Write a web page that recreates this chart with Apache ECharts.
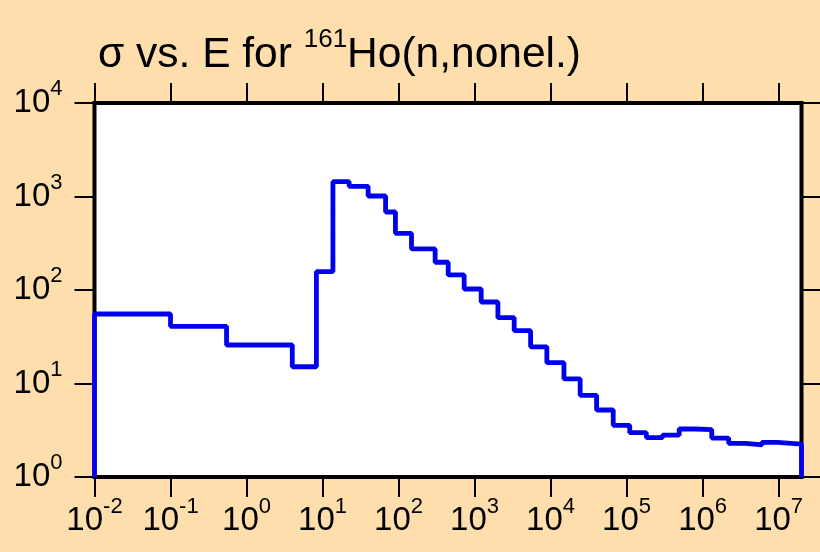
<!DOCTYPE html>
<html>
<head>
<meta charset="utf-8">
<script src="https://cdn.jsdelivr.net/npm/echarts@6/dist/echarts.min.js"></script>
<style>
html,body{margin:0;padding:0;background:#FFDEAD;}
#chart{width:820px;height:552px;}
</style>
</head>
<body>
<div id="chart"></div>
<script>
// Bin edges (eV) and cross-section per bin (barns)
var energyEdges = [0.01, 0.1, 0.546, 4, 8.3, 13.7, 22.4, 39.8, 67.5, 91, 148, 303, 450, 730, 1222, 2028, 3320, 5460, 8930, 1.5e4, 2.45e4, 4.03e4, 6.67e4, 1.1e5, 1.82e5, 2.98e5, 4.92e5, 8.0e5, 1.32e6, 2.2e6, 3.64e6, 6.03e6, 9.7e6, 2e7];
var sigmaValues = [55.4, 40.9, 25.8, 15.1, 157, 1440, 1285, 1012, 683, 404, 275, 198, 145, 102.5, 74.4, 50.6, 36.7, 24.7, 16.7, 11.2, 7.48, 5.21, 3.57, 2.98, 2.64, 2.81, 3.26, 3.21, 2.61, 2.29, 2.20, 2.35, 2.25];
var xTicks = [1e-2, 1e-1, 1e0, 1e1, 1e2, 1e3, 1e4, 1e5, 1e6, 1e7];
var yTicks = [1, 10, 100, 1000, 10000];
var titleMain1 = 'σ vs. E for ';
var titleSup = '161';
var titleMain2 = 'Ho(n,nonel.)';

var yMin = 1, yMax = 10000, xMin = 0.01, xMax = 2e7;

// Step outline vertices
var stepData = [[energyEdges[0], yMin]];
for (var i = 0; i < sigmaValues.length; i++) {
  stepData.push([energyEdges[i], sigmaValues[i]]);
  stepData.push([energyEdges[i + 1], sigmaValues[i]]);
}
stepData.push([energyEdges[energyEdges.length - 1], yMin]);

var FONT = '"Liberation Sans Narrow", "Liberation Sans", Arial, sans-serif';

function powLabel(v) {
  var e = Math.round(Math.log10(v));
  return '{b|10}{s|' + e + '}';
}
var labelRich = {
  b: {fontSize: 33, fontFamily: FONT, color: '#000'},
  s: {fontSize: 22, fontFamily: FONT, color: '#000', padding: [0, 0, 28, 0]}
};

var tickStyle = {show: true, inside: false, length: 20, lineStyle: {color: '#000', width: 2}};

var chart = echarts.init(document.getElementById('chart'), null, {renderer: 'canvas'});
chart.setOption({
  animation: false,
  backgroundColor: '#FFDEAD',
  title: {
    text: '{t|' + titleMain1 + '}{s|' + titleSup + '}{t|' + titleMain2 + '}',
    left: 93,
    top: 22,
    textStyle: {
      fontSize: 42.5,
      fontWeight: 'normal',
      fontFamily: FONT,
      color: '#000',
      rich: {
        t: {fontSize: 42.5, fontWeight: 'normal', fontFamily: FONT, color: '#000'},
        s: {fontSize: 26, fontWeight: 'normal', fontFamily: FONT, color: '#000', padding: [0, 0, 30, 0]}
      }
    }
  },
  grid: {
    left: 94.5, right: 18.5, top: 103, bottom: 75,
    show: true, backgroundColor: '#fff', borderColor: '#000', borderWidth: 4
  },
  xAxis: [{
    type: 'log', logBase: 10, min: xMin, max: xMax, position: 'bottom',
    axisLine: {show: false},
    axisTick: Object.assign({customValues: xTicks}, tickStyle),
    splitLine: {show: false},
    axisLabel: {customValues: xTicks, margin: 19, formatter: powLabel, rich: labelRich}
  }, {
    type: 'log', logBase: 10, min: xMin, max: xMax, position: 'top',
    axisLine: {show: false},
    axisTick: Object.assign({customValues: xTicks}, tickStyle),
    splitLine: {show: false},
    axisLabel: {show: false}
  }],
  yAxis: [{
    type: 'log', logBase: 10, min: yMin, max: yMax, position: 'left',
    axisLine: {show: false},
    axisTick: Object.assign({customValues: yTicks}, tickStyle),
    splitLine: {show: false},
    axisLabel: {customValues: yTicks, margin: 32, formatter: powLabel, rich: labelRich}
  }, {
    type: 'log', logBase: 10, min: yMin, max: yMax, position: 'right',
    axisLine: {show: false},
    axisTick: Object.assign({customValues: yTicks}, tickStyle),
    splitLine: {show: false},
    axisLabel: {show: false}
  }],
  series: [{
    type: 'line',
    data: stepData,
    showSymbol: false,
    symbol: 'none',
    clip: true,
    lineStyle: {color: '#0000EE', width: 4.8},
    z: 1
  }]
});
</script>
</body>
</html>
